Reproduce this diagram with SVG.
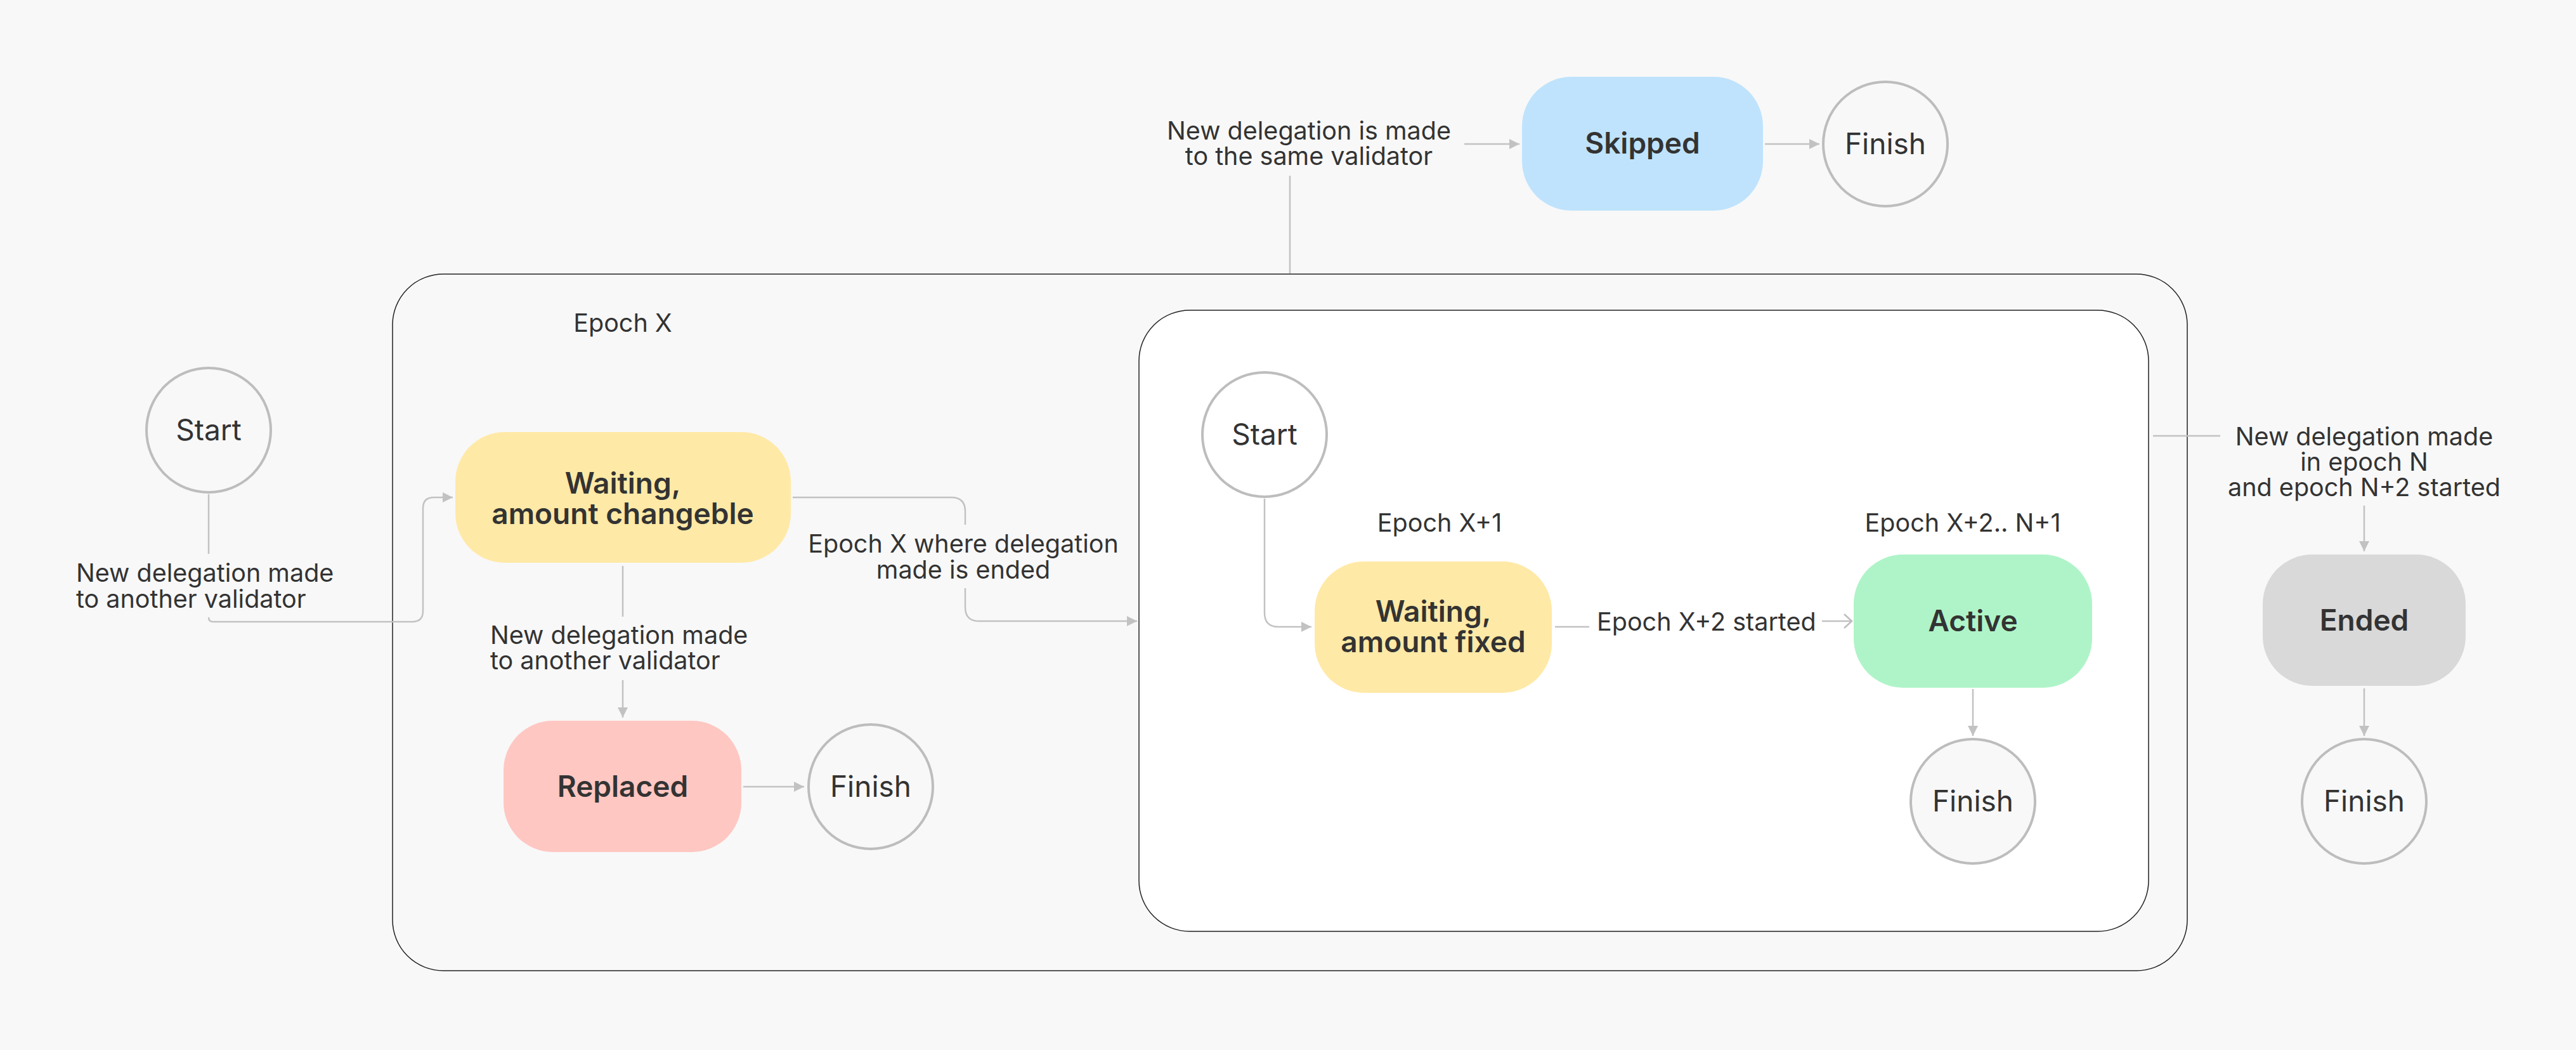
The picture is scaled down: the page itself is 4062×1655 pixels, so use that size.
<svg xmlns="http://www.w3.org/2000/svg" width="4062" height="1655" viewBox="0 0 4062 1655">
<style>
  .bg { fill: #F8F8F8; }
  .container { stroke: #222222; stroke-width: 1.5; }
  .node { stroke: none; }
  .circle { fill: #F8F8F8; stroke: #BDBDBD; stroke-width: 4; }
  .conn { fill: none; stroke: #C2C2C2; stroke-width: 2.5; }
  .label { font-family: Inter, "Liberation Sans", sans-serif; font-size: 39.5px; fill: #333333; }
  .title { font-family: Inter, "Liberation Sans", sans-serif; font-size: 46px; font-weight: 600; fill: #333333; text-anchor: middle; }
  .term { font-family: Inter, "Liberation Sans", sans-serif; font-size: 46px; font-weight: 400; fill: #333333; text-anchor: middle; }
  .mid { text-anchor: middle; }
</style>
<defs>
  <marker id="arrow" markerUnits="userSpaceOnUse" markerWidth="16" markerHeight="16" refX="16" refY="8" orient="auto">
    <path d="M0,0 L16,8 L0,16 Z" fill="#C2C2C2"/>
  </marker>
  <marker id="open" markerUnits="userSpaceOnUse" markerWidth="16" markerHeight="26" refX="14" refY="13" orient="auto">
    <path d="M2,2 L14,13 L2,24" fill="none" stroke="#BDBDBD" stroke-width="2.5"/>
  </marker>
</defs>

<rect class="bg" x="0" y="0" width="4062" height="1655"/>

<g id="epoch-x-container">
  <rect class="container" x="619" y="432" width="2830" height="1098" rx="80" ry="80" fill="#F8F8F8"/>
  <text class="label mid" x="982" y="523">Epoch X</text>
</g>

<g id="epoch-x1-container">
  <rect class="container" x="1796" y="489" width="1592" height="979" rx="80" ry="80" fill="#FFFFFF"/>
  <text class="label mid" x="2270" y="838">Epoch X+1</text>
  <text class="label mid" x="3095" y="838">Epoch X+2.. N+1</text>
</g>

<g id="connectors">
  <!-- Start -> Waiting changeble -->
  <path class="conn" d="M329,779 V873"/>
  <path class="conn" d="M329,973 Q329,980 336,980 H650 Q667,980 667,963 V801 Q667,784 684,784 H714" marker-end="url(#arrow)"/>
  <!-- Waiting changeble -> Epoch X+1 container -->
  <path class="conn" d="M1250,784 H1500 Q1522,784 1522,806 V827"/>
  <path class="conn" d="M1522,927 V957 Q1522,979 1544,979 H1793" marker-end="url(#arrow)"/>
  <!-- Waiting changeble -> Replaced -->
  <path class="conn" d="M982,892 V972"/>
  <path class="conn" d="M982,1072 V1131" marker-end="url(#arrow)"/>
  <!-- Replaced -> Finish -->
  <path class="conn" d="M1172,1240 H1268" marker-end="url(#arrow)"/>
  <!-- Start 2 -> Waiting fixed -->
  <path class="conn" d="M1994,786 V966 Q1994,988 2016,988 H2068" marker-end="url(#arrow)"/>
  <!-- Waiting fixed -> Active -->
  <path class="conn" d="M2452,988 H2506"/>
  <path class="conn" d="M2873,979 H2920" marker-end="url(#open)"/>
  <!-- Active -> Finish -->
  <path class="conn" d="M3111,1086 V1160" marker-end="url(#arrow)"/>
  <!-- Epoch X container -> Skipped -->
  <path class="conn" d="M2034,277 V431"/>
  <path class="conn" d="M2309,227 H2396" marker-end="url(#arrow)"/>
  <!-- Skipped -> Finish -->
  <path class="conn" d="M2783,227 H2869" marker-end="url(#arrow)"/>
  <!-- Epoch X+1 container -> Ended -->
  <path class="conn" d="M3395,687 H3501"/>
  <path class="conn" d="M3728,797 V869" marker-end="url(#arrow)"/>
  <!-- Ended -> Finish -->
  <path class="conn" d="M3728,1085 V1160" marker-end="url(#arrow)"/>

  <text class="label" x="120" y="917">New delegation made</text>
  <text class="label" x="120" y="958">to another validator</text>
  <text class="label mid" x="1519" y="871">Epoch X where delegation</text>
  <text class="label mid" x="1519" y="912">made is ended</text>
  <text class="label" x="773" y="1015">New delegation made</text>
  <text class="label" x="773" y="1055">to another validator</text>
  <text class="label" x="2518" y="994">Epoch X+2 started</text>
  <text class="label mid" x="2064" y="220">New delegation is made</text>
  <text class="label mid" x="2064" y="260">to the same validator</text>
  <text class="label mid" x="3728" y="702">New delegation made</text>
  <text class="label mid" x="3728" y="742">in epoch N</text>
  <text class="label mid" x="3728" y="782">and epoch N+2 started</text>
</g>

<g id="start-1">
  <circle class="circle" cx="329" cy="678" r="98"/>
  <text class="term" x="329" y="694">Start</text>
</g>

<g id="waiting-changeble">
  <rect class="node" x="718" y="681" width="529" height="206" rx="78" ry="78" fill="#FFE9A6"/>
  <text class="title" x="982" y="778">Waiting,</text>
  <text class="title" x="982" y="826">amount changeble</text>
</g>

<g id="replaced">
  <rect class="node" x="794" y="1136" width="375" height="207" rx="78" ry="78" fill="#FFC7C2"/>
  <text class="title" x="982" y="1256">Replaced</text>
</g>

<g id="finish-replaced">
  <circle class="circle" cx="1373" cy="1240" r="98"/>
  <text class="term" x="1373" y="1256">Finish</text>
</g>

<g id="start-2">
  <circle class="circle" cx="1994" cy="685" r="98" style="fill:#FFFFFF"/>
  <text class="term" x="1994" y="701">Start</text>
</g>

<g id="waiting-fixed">
  <rect class="node" x="2073" y="885" width="374" height="207" rx="78" ry="78" fill="#FFE9A6"/>
  <text class="title" x="2260" y="980">Waiting,</text>
  <text class="title" x="2260" y="1028">amount fixed</text>
</g>

<g id="active">
  <rect class="node" x="2923" y="874" width="376" height="210" rx="78" ry="78" fill="#AFF4C8"/>
  <text class="title" x="3111" y="995">Active</text>
</g>

<g id="finish-active">
  <circle class="circle" cx="3111" cy="1263" r="98"/>
  <text class="term" x="3111" y="1279">Finish</text>
</g>

<g id="skipped">
  <rect class="node" x="2400" y="121" width="380" height="211" rx="78" ry="78" fill="#BFE3FC"/>
  <text class="title" x="2590" y="242">Skipped</text>
</g>

<g id="finish-skipped">
  <circle class="circle" cx="2973" cy="227" r="98"/>
  <text class="term" x="2973" y="243">Finish</text>
</g>

<g id="ended">
  <rect class="node" x="3568" y="874" width="320" height="207" rx="78" ry="78" fill="#D9D9D9"/>
  <text class="title" x="3728" y="994">Ended</text>
</g>

<g id="finish-ended">
  <circle class="circle" cx="3728" cy="1263" r="98"/>
  <text class="term" x="3728" y="1279">Finish</text>
</g>
</svg>
